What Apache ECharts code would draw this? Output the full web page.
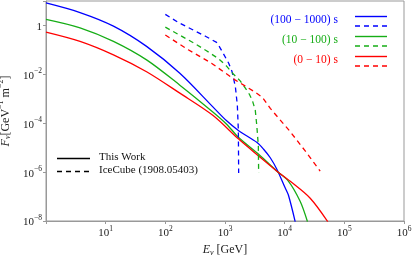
<!DOCTYPE html>
<html><head><meta charset="utf-8">
<script src="https://cdn.jsdelivr.net/npm/echarts@6/dist/echarts.min.js"></script>
<style>html,body{margin:0;padding:0;background:#fff}#c{width:413px;height:255px}</style>
</head><body><div id="c"></div>
<script>
// Energies [GeV] and fluxes [GeV^-1 m^-2]
const blueSolidE = [1, 3.72, 13.5, 48.5, 175, 632, 1054, 1694, 3443, 4436, 5741, 7430, 10230, 11610, 15030];
const blueSolidF = [8.3, 3.36, 0.935, 0.139, 0.0110, 4.55e-4, 1.28e-4, 4.94e-5, 1.62e-5, 8.63e-6, 3.87e-6, 1.28e-6, 2.22e-7, 1.10e-7, 9.27e-9];
const greenSolidE = [1, 3.72, 13.5, 48.5, 175, 632, 1054, 1694, 3664, 7430, 11610, 18240, 24150];
const greenSolidF = [1.78, 0.804, 0.224, 0.0391, 3.61e-3, 2.82e-4, 9.35e-5, 2.61e-5, 5.36e-6, 1.09e-6, 4.20e-7, 6.24e-8, 9.27e-9];
const redSolidE = [1, 3.72, 13.5, 48.5, 175, 632, 1694, 3664, 7430, 12420, 26790, 52970];
const redSolidF = [0.537, 0.224, 0.0630, 0.0128, 1.70e-3, 2.07e-4, 2.24e-5, 4.55e-6, 1.09e-6, 4.20e-7, 8.55e-8, 9.27e-9];
const blueDashE = [100, 168, 282, 470, 738, 895, 1153, 1315, 1493, 1611, 1675, 1694];
const blueDashF = [2.85, 1.29, 0.682, 0.361, 0.198, 0.0863, 0.0285, 0.0128, 3.07e-3, 5.36e-4, 4.94e-5, 9.27e-7];
const greenDashE = [100, 179.5, 300, 489, 785, 1054, 1380, 1811, 2193, 2559, 2871, 3221, 3412, 3622, 3664];
const greenDashF = [0.85, 0.385, 0.192, 0.0923, 0.0431, 0.0221, 0.0103, 5.28e-3, 2.71e-3, 1.53e-3, 8.63e-4, 3.33e-4, 7.96e-5, 1.18e-5, 9.27e-7];
const redDashE = [100, 242, 593, 1493, 3221, 4217, 5741, 12420, 22080, 39360];
const redDashF = [0.405, 0.101, 0.0285, 5.81e-3, 1.85e-3, 1.15e-3, 4.03e-4, 4.49e-5, 7.33e-6, 1.09e-6];

const legendLabels = ['(100 \u2212 1000) s', '(10 \u2212 100) s', '(0 \u2212 10) s'];
const styleLabels = ['This Work', 'IceCube (1908.05403)'];

const BLUE = '#0000ff', GREEN = '#16ad16', RED = '#ff0000';
const SERIF = '"Liberation Serif","DejaVu Serif",serif';
const zip = (a, b) => a.map((v, i) => [v, b[i]]);

function powLabel(v, isY) {
  const e = Math.round(Math.log10(v));
  if (isY && e === 0) return '{b|1}';
  const s = e < 0 ? '\u2212' + (-e) : String(e);
  return '{b|10}{s|' + s + '}';
}
const rich = {
  b: { fontFamily: SERIF, fontSize: 11, color: '#222', lineHeight: 14, verticalAlign: 'bottom' },
  s: { fontFamily: SERIF, fontSize: 7.5, color: '#222', lineHeight: 14, verticalAlign: 'top' }
};

function line(name, data, color, dashed) {
  return {
    type: 'line', name, data, showSymbol: false, symbol: 'none',
    smooth: dashed ? false : 0.3, clip: true, silent: true,
    lineStyle: { color, width: 1.3, type: dashed ? [5, 4] : 'solid', join: 'round' }
  };
}

const chart = echarts.init(document.getElementById('c'), null, { renderer: 'canvas' });
chart.setOption({
  animation: false,
  grid: { left: 46, right: 9, top: 1, bottom: 34, show: true, borderColor: '#999', borderWidth: 1,
          containLabel: false, outerBoundsMode: 'none' },
  xAxis: {
    type: 'log', logBase: 10, min: 1, max: 1e6, interval: 1,
    name: '{i|E}{sub|\u03bd}{n| [GeV]}', nameLocation: 'middle', nameGap: 20,
    nameTextStyle: { rich: {
      i: { fontFamily: SERIF, fontStyle: 'italic', fontSize: 12, color: '#222' },
      sub: { fontFamily: SERIF, fontStyle: 'italic', fontSize: 8, color: '#222', verticalAlign: 'bottom', lineHeight: 14 },
      n: { fontFamily: SERIF, fontSize: 12, color: '#222' } } },
    axisLine: { lineStyle: { color: '#999', width: 1 } },
    axisTick: { inside: false, length: 3, lineStyle: { color: '#999' } },
    minorTick: { show: false },
    splitLine: { show: false },
    axisLabel: { margin: 4, formatter: v => (Math.round(Math.log10(v)) === 0 ? '' : powLabel(v, false)), rich }
  },
  yAxis: {
    type: 'log', logBase: 10, min: 1e-8, max: 10, interval: 2,
    name: '{i|F}{sub|\u03bd}{n|[GeV}{sup|\u22121}{n| m}{sup|\u22122}{n|]}', nameLocation: 'middle', nameGap: 31, nameRotate: 90,
    nameTextStyle: { rich: {
      i: { fontFamily: SERIF, fontStyle: 'italic', fontSize: 12, color: '#222', lineHeight: 15, verticalAlign: 'bottom' },
      sub: { fontFamily: SERIF, fontStyle: 'italic', fontSize: 8, color: '#222', verticalAlign: 'bottom', lineHeight: 15 },
      n: { fontFamily: SERIF, fontSize: 12, color: '#222', lineHeight: 15, verticalAlign: 'bottom' },
      sup: { fontFamily: SERIF, fontSize: 8, color: '#222', verticalAlign: 'top', lineHeight: 15 } } },
    axisLine: { lineStyle: { color: '#999', width: 1 } },
    axisTick: { inside: false, length: 3, lineStyle: { color: '#999' } },
    splitLine: { show: false },
    axisLabel: { margin: 4, formatter: v => (Math.round(Math.log10(v)) % 2 !== 0 ? '' : powLabel(v, true)), rich }
  },
  series: [
    line('blueSolid', zip(blueSolidE, blueSolidF), BLUE, false),
    line('greenSolid', zip(greenSolidE, greenSolidF), GREEN, false),
    line('redSolid', zip(redSolidE, redSolidF), RED, false),
    line('blueDash', zip(blueDashE, blueDashF), BLUE, true),
    line('greenDash', zip(greenDashE, greenDashF), GREEN, true),
    line('redDash', zip(redDashE, redDashF), RED, true)
  ],
  graphic: [
    { type: 'text', right: 413 - 338, top: 14, style: { text: legendLabels[0], fill: BLUE, font: '11.5px ' + SERIF } },
    { type: 'text', right: 413 - 338, top: 34, style: { text: legendLabels[1], fill: GREEN, font: '11.5px ' + SERIF } },
    { type: 'text', right: 413 - 338, top: 54, style: { text: legendLabels[2], fill: RED, font: '11.5px ' + SERIF } },
    { type: 'line', shape: { x1: 355, y1: 16.5, x2: 387, y2: 16.5 }, style: { stroke: BLUE, lineWidth: 1.4 } },
    { type: 'line', shape: { x1: 355, y1: 26, x2: 387, y2: 26 }, style: { stroke: BLUE, lineWidth: 1.4, lineDash: [5, 4] } },
    { type: 'line', shape: { x1: 355, y1: 36.5, x2: 387, y2: 36.5 }, style: { stroke: GREEN, lineWidth: 1.4 } },
    { type: 'line', shape: { x1: 355, y1: 46, x2: 387, y2: 46 }, style: { stroke: GREEN, lineWidth: 1.4, lineDash: [5, 4] } },
    { type: 'line', shape: { x1: 355, y1: 56.5, x2: 387, y2: 56.5 }, style: { stroke: RED, lineWidth: 1.4 } },
    { type: 'line', shape: { x1: 355, y1: 66, x2: 387, y2: 66 }, style: { stroke: RED, lineWidth: 1.4, lineDash: [5, 4] } },
    { type: 'line', shape: { x1: 57, y1: 158.5, x2: 90, y2: 158.5 }, style: { stroke: '#000', lineWidth: 1.4 } },
    { type: 'line', shape: { x1: 57, y1: 171.5, x2: 90, y2: 171.5 }, style: { stroke: '#000', lineWidth: 1.4, lineDash: [5, 4] } },
    { type: 'text', left: 99, top: 152, style: { text: styleLabels[0], fill: '#111', font: '11px ' + SERIF } },
    { type: 'text', left: 99, top: 165, style: { text: styleLabels[1], fill: '#111', font: '11px ' + SERIF } }
  ]
});
</script></body></html>
